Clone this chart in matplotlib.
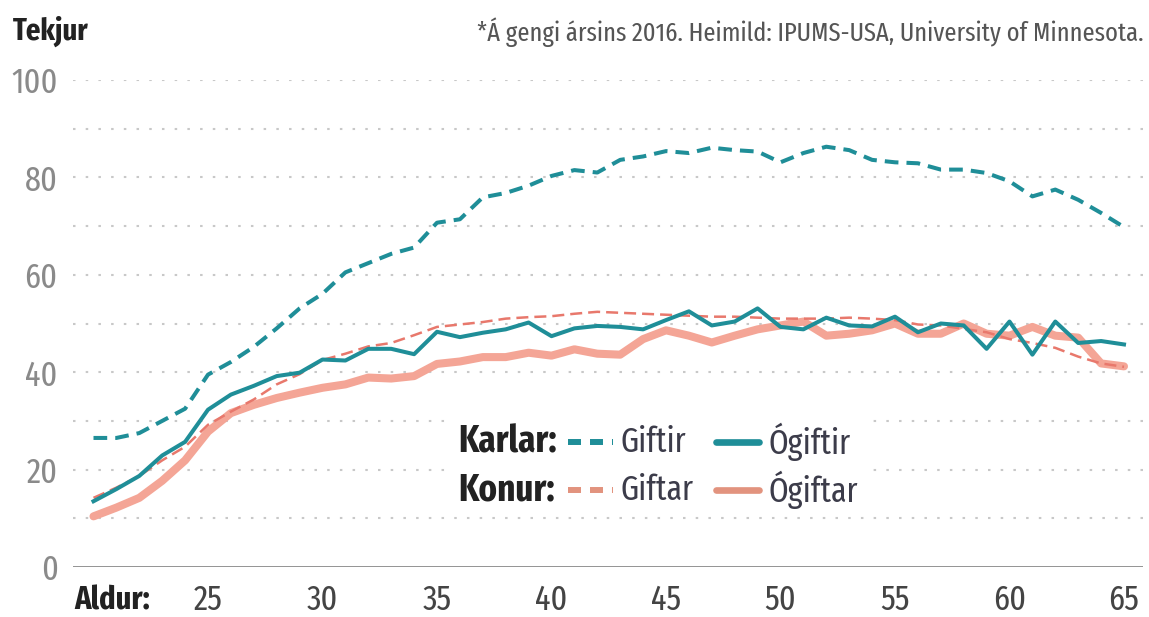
import numpy as np
import matplotlib.pyplot as plt
from matplotlib import font_manager as fm
from matplotlib.lines import Line2D
from matplotlib.patches import Rectangle
from matplotlib.textpath import TextPath

# Aldur (ár)
aldur = list(range(20, 66))

# Tekjur, þúsundir dala (lesið af myndinni)
karlar_giftir = [26.5, 26.5, 27.5, 30.0, 32.5, 39.5, 42.1, 45.2, 49.0, 53.1,
                 56.1, 60.5, 62.4, 64.3, 65.6, 70.7, 71.4, 75.9, 76.8, 78.3,
                 80.3, 81.5, 81.0, 83.6, 84.3, 85.4, 85.0, 86.1, 85.6, 85.3,
                 83.1, 85.0, 86.3, 85.6, 83.6, 83.1, 82.9, 81.6, 81.6, 80.9,
                 79.2, 76.1, 77.5, 75.4, 72.7, 69.8]
karlar_ogiftir = [13.5, 16.0, 18.7, 22.9, 25.7, 32.3, 35.4, 37.2, 39.2, 39.9,
                  42.6, 42.4, 44.8, 44.8, 43.7, 48.3, 47.2, 48.1, 48.8, 50.2,
                  47.4, 49.0, 49.5, 49.3, 48.8, 50.7, 52.5, 49.6, 50.4, 53.1,
                  49.3, 48.8, 51.2, 49.6, 49.4, 51.4, 48.2, 50.0, 49.6, 44.8,
                  50.4, 43.6, 50.4, 46.0, 46.4, 45.7]
konur_giftar = [14.2, 16.3, 18.7, 21.9, 24.7, 29.2, 31.9, 34.4, 37.5, 39.6,
                42.5, 43.8, 45.3, 46.0, 47.6, 49.3, 49.8, 50.3, 51.0, 51.3,
                51.5, 52.0, 52.4, 52.2, 52.0, 51.8, 51.6, 51.4, 51.4, 51.2,
                51.0, 51.0, 51.0, 51.2, 51.0, 50.7, 49.8, 49.6, 48.9, 48.2,
                46.8, 46.0, 45.0, 43.2, 41.8, 41.1]
konur_ogiftar = [10.4, 12.2, 14.2, 17.7, 21.9, 27.8, 31.6, 33.3, 34.7, 35.8,
                 36.8, 37.5, 38.9, 38.7, 39.2, 41.7, 42.2, 43.1, 43.1, 44.0,
                 43.4, 44.7, 43.8, 43.6, 46.8, 48.6, 47.5, 46.1, 47.5, 48.8,
                 49.6, 50.4, 47.5, 47.9, 48.6, 50.0, 47.9, 47.9, 50.0, 47.9,
                 47.5, 49.3, 47.5, 47.1, 41.8, 41.2]

x_ticks = [25, 30, 35, 40, 45, 50, 55, 60, 65]
y_ticks = [0, 20, 40, 60, 80, 100]

TEAL = '#1f8e98'
SALMON = '#f4a596'
SALMON_DASH = '#e8786c'
SALMON_LEG = '#e2937e'


# --- þröngt letur ef það er til ---
def weight_num(w):
    if isinstance(w, (int, float)):
        return w
    return fm.weight_dict.get(w, 400)


STRETCH_BONUS = {'extra-condensed': 80, 'condensed': 50, 'semi-condensed': 0}


def find_narrow(target_w):
    best = None
    for f in fm.fontManager.ttflist:
        if f.style != 'normal' or 'Mono' in f.name:
            continue
        narrow = ('Narrow' in f.name or 'Condensed' in f.name
                  or f.stretch in STRETCH_BONUS)
        if not narrow:
            continue
        score = abs(weight_num(f.weight) - target_w)
        score -= STRETCH_BONUS.get(f.stretch, 50 if 'Narrow' in f.name else 0)
        if 'ExtraCondensed' in f.fname:
            score -= 30
        if best is None or score < best[0]:
            best = (score, f.fname)
    if best is None:
        return fm.FontProperties(family='Liberation Sans',
                                 weight='bold' if target_w >= 600 else 'normal')
    return fm.FontProperties(fname=best[1])


FP_REG = find_narrow(400)
FP_BOLD = find_narrow(700)


def fitted(fp, text, width_px):
    # leturstærð svo að breidd textans verði width_px
    ext = TextPath((0, 0), text, size=10, prop=fp).get_extents()
    size = width_px / (ext.width / 10 * 100 / 72)
    p = fp.copy()
    p.set_size(size)
    return p


W, H = 1149, 617
fig = plt.figure(figsize=(W / 100, H / 100), dpi=100)


def fx(px):
    return px / W


def fy(py):
    return 1 - py / H


# ás: vinstri 73px, hægri 1143px, 0 við 567px, 100 við 80px
ax = fig.add_axes([fx(73), fy(567), fx(1143) - fx(73), fy(80) - fy(567)])
ax.set_xlim(25 - 135 / 22.9, 25 + 935 / 22.9)
ax.set_ylim(0, 100)

for v in range(10, 101, 10):
    ax.axhline(v, color='#c8c8c8', lw=1.5, ls=(0, (1.2, 4.9)), zorder=1)
ax.axhline(0, color='#8a8a8a', lw=2, zorder=2)

# hvítur bakgrunnur skýringar
ax.add_patch(Rectangle((fx(445), fy(512)), fx(868) - fx(445), fy(398) - fy(512),
                       transform=fig.transFigure, facecolor='white',
                       edgecolor='none', zorder=1.5))

ax.plot(aldur, konur_ogiftar, color=SALMON, lw=5.8, solid_capstyle='round',
        solid_joinstyle='round', zorder=3)
ax.plot(aldur, konur_giftar, color=SALMON_DASH, lw=1.8, ls=(0, (4.8, 2.4)), zorder=4)
ax.plot(aldur, karlar_ogiftir, color=TEAL, lw=2.9, solid_joinstyle='round', zorder=5)
ax.plot(aldur, karlar_giftir, color=TEAL, lw=2.9, ls=(0, (3.4, 2.0)), zorder=6)

for s in ax.spines.values():
    s.set_visible(False)

fp_tick = fitted(FP_REG, '100', 44)
ax.set_xticks(x_ticks)
ax.set_xticklabels([str(t) for t in x_ticks], fontproperties=fp_tick, color='#444444')
ax.set_yticks(y_ticks)
ax.set_yticklabels([str(t) for t in y_ticks], fontproperties=fp_tick, color='#8a8a8a')
ax.tick_params(axis='both', length=0)
ax.tick_params(axis='x', pad=12)
ax.tick_params(axis='y', pad=11)

fig.text(fx(13), fy(31), 'Tekjur', fontproperties=fitted(FP_BOLD, 'Tekjur', 76),
         color='#222222', va='center', ha='left')
note = '*Á gengi ársins 2016. Heimild: IPUMS-USA, University of Minnesota.'
fig.text(fx(1144), fy(32), note, fontproperties=fitted(FP_REG, note, 664),
         color='#555555', va='center', ha='right')
fig.text(fx(74), fy(601), 'Aldur:', fontproperties=fitted(FP_BOLD, 'Aldur:', 75),
         color='#222222', va='center', ha='left')

# skýring
fp_leg_b = fitted(FP_BOLD, 'Karlar:', 96)
fp_leg = fitted(FP_REG, 'Ógiftar', 88)
rows = [
    (442, 'Karlar:', TEAL, TEAL, 'Giftir', 'Ógiftir'),
    (490, 'Konur:', SALMON_LEG, SALMON_LEG, 'Giftar', 'Ógiftar'),
]
for py, lab, c_dash, c_solid, t1, t2 in rows:
    fig.text(fx(458), fy(py), lab, fontproperties=fp_leg_b,
             color='#222222', va='center', ha='left')
    lw_d = 4.3
    on = 13 / 1.389 / lw_d
    off = 9 / 1.389 / lw_d
    fig.add_artist(Line2D([fx(568), fx(613)], [fy(py), fy(py)], color=c_dash,
                          lw=lw_d, ls=(0, (on, off)), transform=fig.transFigure))
    fig.text(fx(620), fy(py), t1, fontproperties=fp_leg, color='#3c3c4a',
             va='center', ha='left')
    fig.add_artist(Line2D([fx(716), fx(759)], [fy(py), fy(py)], color=c_solid,
                          lw=4.8, solid_capstyle='round', transform=fig.transFigure))
    fig.text(fx(768), fy(py), t2, fontproperties=fp_leg, color='#3c3c4a',
             va='center', ha='left')

fig.savefig('out.png', dpi=100, facecolor='white')
